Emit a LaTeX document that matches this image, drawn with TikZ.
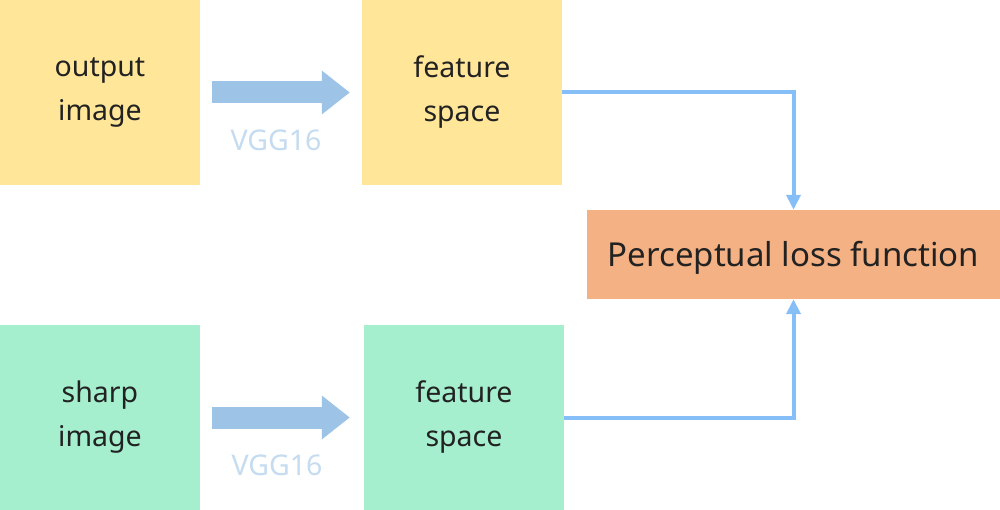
\documentclass[tikz,border=0pt]{standalone}
\usepackage{fontspec}
\setmainfont{Noto Sans}
\usetikzlibrary{positioning, arrows.meta}
\definecolor{Yellow}{HTML}{FFE699}
\definecolor{Green}{HTML}{A5EFCF}
\definecolor{Orange}{HTML}{F4B183}
\definecolor{Blue}{HTML}{9DC3E6}
\definecolor{LightBlue}{HTML}{C5DCF0}
\definecolor{LineBlue}{HTML}{86BFF8}
\definecolor{Ink}{HTML}{222222}

\begin{document}
\begin{tikzpicture}[
    x=1pt, y=-1pt,
    >=Latex,
    boxKey/.style={rectangle, inner sep=0pt, minimum width=200pt, minimum height=185pt, align=center, text=Ink, font=\fontsize{28.5}{44}\selectfont},
    outKey/.style={boxKey, fill=Yellow},
    sharpKey/.style={boxKey, fill=Green},
    lossKey/.style={rectangle, inner sep=0pt, minimum width=413pt, minimum height=89pt, text height=25pt, text depth=0pt, fill=Orange, text=Ink, font=\fontsize{33}{40}\selectfont},
    fatArrow/.style={draw=Blue, line width=22pt, -{Triangle[length=28pt, width=42pt]}, shorten <=12pt},
    vggLabel/.style={text=LightBlue, font=\fontsize{28.5}{30}\selectfont, xshift=-5pt},
    lossLine/.style={draw=LineBlue, line width=4pt, -{Triangle[length=15pt, width=14pt]}},
  ]
  \useasboundingbox (0,0) rectangle (1000,510);
  % boxes
  \node[outKey]   (outImg)   at (100,92.5)   {output\\image};
  \node[outKey]   (outFeat)  at (462,92.5)   {feature\\space};
  \node[sharpKey] (sharpImg) at (100,417.5)  {sharp\\image};
  \node[sharpKey] (sharpFeat) at (464,417.5) {feature\\space};
  \node[lossKey]  (loss)     at (793.5,254.5) {Perceptual loss function};
  % vgg arrows
  \draw[fatArrow, shorten >=12pt] (outImg) -- (outFeat) node[midway, below=23pt, vggLabel] {VGG16};
  \draw[fatArrow, shorten >=14pt] (sharpImg) -- (sharpFeat) node[midway, below=23pt, vggLabel] {VGG16};
  % lines
  \draw[lossLine] (outFeat.east) -| (loss.north);
  \draw[lossLine] (sharpFeat.east) -| (loss.south);
\end{tikzpicture}
\end{document}
